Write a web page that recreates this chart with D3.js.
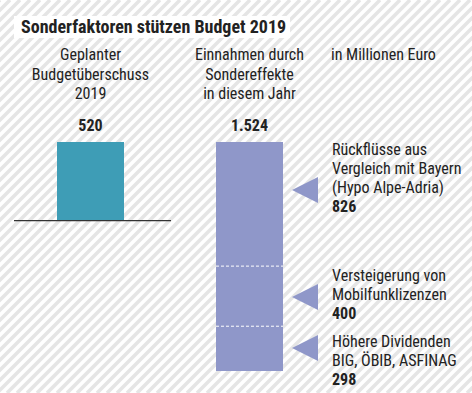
<!DOCTYPE html>
<html><head><meta charset="utf-8">
<script src="https://cdn.jsdelivr.net/npm/d3@7"></script>
<style>
html,body{margin:0;padding:0;background:#fff;}
svg{display:block;}
text{font-family:"Liberation Sans Narrow","Roboto Condensed","Roboto",sans-serif;fill:#222;}
</style></head>
<body>
<script>
const title = "Sonderfaktoren stützen Budget 2019";
const unitLabel = "in Millionen Euro";
const barHeaders = [["Geplanter","Budgetüberschuss","2019"],["Einnahmen durch","Sondereffekte","in diesem Jahr"]];
const barValues = [520, 1524];
const barValueLabels = ["520","1.524"];
const segmentNames = [["Rückflüsse aus","Vergleich mit Bayern","(Hypo Alpe-Adria)"],["Versteigerung von","Mobilfunklizenzen"],["Höhere Dividenden","BIG, ÖBIB, ASFINAG"]];
const segmentValues = [826, 400, 298];
const segmentValueLabels = ["826","400","298"];

const W = 472, H = 393;
const svg = d3.select("body").append("svg").attr("width", W).attr("height", H);
svg.append("rect").attr("width",W).attr("height",H).attr("fill","#fff");
const stripeOffsets = d3.range(0, W + H + 10, 10);
svg.append("g").selectAll("line").data(stripeOffsets).join("line")
  .attr("x1",d=>d).attr("y1",0).attr("x2",d=>d-H).attr("y2",H)
  .attr("stroke","#e5e5e5").attr("stroke-width",3.5);

// title
svg.append("rect").attr("x",14).attr("y",16).attr("width",276).attr("height",22).attr("fill","#fff");
svg.append("text").attr("x",21).attr("y",33).attr("font-size",18).attr("font-weight","bold").text(title);

// scales
const y = d3.scaleLinear().domain([0, 1524]).range([0, 229]);
const barTop = 142;
const x = d3.scaleBand().domain([0,1]).range([57, 283]).paddingInner(0.5786).paddingOuter(0);
const colors = ["#3e9db6","#8f97c9"];

// headers
barHeaders.forEach((lines,i)=>{
  const cx = x(i) + x.bandwidth()/2;
  lines.forEach((l,j)=>{
    svg.append("text").attr("x",cx).attr("y",60+j*19.5).attr("text-anchor","middle").attr("font-size",16).text(l);
  });
});
svg.append("text").attr("x",331).attr("y",60).attr("font-size",16).text(unitLabel);

// bars
svg.selectAll(".bar").data(barValues).join("rect").attr("class","bar")
  .attr("x",(d,i)=>x(i)).attr("width",x.bandwidth())
  .attr("y",barTop).attr("height",d=>y(d)).attr("fill",(d,i)=>colors[i]);
svg.selectAll(".vlab").data(barValueLabels).join("text").attr("class","vlab")
  .attr("x",(d,i)=>x(i)+x.bandwidth()/2).attr("y",131).attr("text-anchor","middle")
  .attr("font-size",16).attr("font-weight","bold").text(d=>d);

// baseline
svg.append("line").attr("x1",14).attr("x2",171).attr("y1",barTop+y(barValues[0])+0.5).attr("y2",barTop+y(barValues[0])+0.5)
  .attr("stroke","#333").attr("stroke-width",1.2);

// segment dividers
let cum = 0;
const bounds = segmentValues.map(v=>{ const s=cum; cum+=v; return [s,cum]; });
bounds.slice(0,-1).forEach(b=>{
  const yy = barTop + y(b[1]);
  svg.append("line").attr("x1",x(1)).attr("x2",x(1)+x.bandwidth()).attr("y1",yy).attr("y2",yy)
    .attr("stroke","#fff").attr("stroke-width",1).attr("stroke-dasharray","3,2");
});

// annotations
const labelTops = [155, 281, 347];
const triY = [190, 297, 348];
segmentNames.forEach((lines,i)=>{
  const ty = triY[i];
  svg.append("path").attr("d",`M292,${ty} L318,${ty-13} L318,${ty+13} Z`).attr("fill",colors[1]);
  lines.forEach((l,j)=>{
    svg.append("text").attr("x",332).attr("y",labelTops[i]+j*19).attr("font-size",16).text(l);
  });
  svg.append("text").attr("x",332).attr("y",labelTops[i]+lines.length*19).attr("font-size",16).attr("font-weight","bold").text(segmentValueLabels[i]);
});
</script>
</body></html>
